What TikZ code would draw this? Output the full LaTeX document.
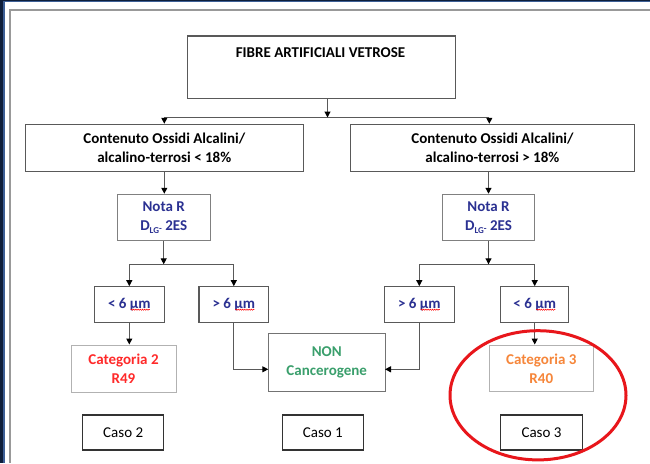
\documentclass[tikz,border=0pt]{standalone}
\usepackage{fontspec}
\setmainfont{Carlito}
\usetikzlibrary{arrows.meta,decorations.pathmorphing}
\definecolor{navy}{HTML}{2B3192}
\definecolor{frameNavy}{HTML}{0E1E3A}
\definecolor{frameBlue}{HTML}{3D5F96}
\definecolor{catred}{HTML}{FF2A2A}
\definecolor{catgreen}{HTML}{3A9F6C}
\definecolor{catorange}{HTML}{F6863A}
\definecolor{ringred}{HTML}{E8161B}
\begin{document}
\begin{tikzpicture}[x=1pt,y=-1pt,
  font=\fontsize{15}{19}\selectfont,
  bx/.style={draw=black!65, line width=1.1pt, inner sep=0pt, align=center, fill=white},
  navybx/.style={bx, draw=black!50, text=navy, font=\fontsize{15}{19}\selectfont\bfseries},
  sizebx/.style={bx, text=navy, font=\fontsize{15}{19}\selectfont\bfseries},
  catbx/.style={bx, draw=black!30, line width=1pt, font=\fontsize{15}{19}\selectfont\bfseries},
  casobx/.style={bx, draw=black!80},
  conn/.style={draw=black!65, line width=1.1pt},
  arr/.style={conn, -{Triangle[length=6pt,width=6pt,color=black]}},
  squig/.style={draw=red, line width=0.5pt, decorate, decoration={snake, amplitude=0.6pt, segment length=2.2pt}}
]
\useasboundingbox[fill=white] (0,0) rectangle (650,463);
% slide frame
\fill[frameNavy] (0,0) rectangle (3.4,463);
\fill[frameNavy] (0,0) rectangle (650,1.3);
\fill[frameBlue] (3.4,1.3) rectangle (4.7,463);
\fill[frameBlue] (3.4,1.3) rectangle (650,2.0);
\draw[black!40, line width=1.4pt] (9.8,463) -- (9.8,9.8) -- (650,9.8);

% top box
\node[bx, minimum width=268pt, minimum height=62.4pt] (top) at (321.5,67.2) {};
\node[font=\fontsize{15}{19}\selectfont\bfseries, inner sep=0pt] (toplbl) at (320.5,52.5) {FIBRE ARTIFICIALI VETROSE};

% level 1
\node[bx, font=\fontsize{15}{19}\selectfont\bfseries, minimum width=278pt, minimum height=47.4pt] (c1) at (164.3,148)
  {Contenuto Ossidi Alcalini/\\alcalino-terrosi < 18\%};
\node[bx, font=\fontsize{15}{19}\selectfont\bfseries, minimum width=283.3pt, minimum height=47.4pt] (c2) at (492.4,148)
  {Contenuto Ossidi Alcalini/\\alcalino-terrosi > 18\%};

% Nota R
\newcommand{\dlg}{D\raisebox{-2.5pt}{\fontsize{9}{9}\selectfont LG}\raisebox{-1pt}{\fontsize{9}{9}\selectfont -}~2ES}
\node[navybx, minimum width=92.7pt, minimum height=46.4pt] (n1) at (163.7,217.5) {Nota R\\\dlg};
\node[navybx, minimum width=92.4pt, minimum height=46.4pt] (n2) at (488.5,217.5) {Nota R\\\dlg};

% size boxes
\node[sizebx, minimum width=70pt, minimum height=36pt] (a1) at (129.3,304.7) {< 6 µm};
\node[sizebx, minimum width=69.7pt, minimum height=36pt] (a2) at (233.8,304.7) {> 6 µm};
\node[sizebx, minimum width=70pt, minimum height=36pt] (a3) at (419.3,304.7) {> 6 µm};
\node[sizebx, minimum width=68pt, minimum height=36pt] (a4) at (534.7,304.7) {< 6 µm};
\foreach \b in {a1,a2,a3,a4}{
  \draw[squig] ([xshift=1.5pt,yshift=-5pt]\b.center) -- ([xshift=20.5pt,yshift=-5pt]\b.center);
}

% outcome boxes
\node[catbx, text=catred, minimum width=105pt, minimum height=47pt] (cat2) at (123.5,368.5) {Categoria 2\\R49};
\node[bx, draw=black!55, text=catgreen, font=\fontsize{15}{19}\selectfont\bfseries, minimum width=116.7pt, minimum height=58.4pt] (non) at (326.7,362.5) {NON\\Cancerogene};
\node[catbx, text=catorange, minimum width=104pt, minimum height=46.7pt] (cat3) at (541.3,368.4) {Categoria 3\\R40};

% caso boxes
\node[casobx, minimum width=81pt, minimum height=35pt] (k2) at (123.2,432.5) {Caso 2};
\node[casobx, minimum width=81pt, minimum height=35pt] (k1) at (322.8,432.5) {Caso 1};
\node[casobx, minimum width=81.6pt, minimum height=35pt] (k3) at (541.5,432.5) {Caso 3};

% connectors
\coordinate (j0) at (327.5,117.5);
\coordinate (jl) at (164.3,117.5);
\coordinate (jr) at (489.3,117.5);
\draw[conn] (jl) -- (jr);
\draw[arr] (top.south -| j0) -- (j0);
\draw[arr] (jl) -- (jl |- c1.north);
\draw[arr] (jr) -- (jr |- c2.north);
\draw[arr] (c1.south) -- (c1.south |- n1.north);
\draw[arr] (n2.north |- c2.south) -- (n2.north);

\coordinate (m1) at (163.7,264.3);
\coordinate (m2) at (488.5,264.3);
\draw[conn] (m1 -| a1) -- (m1 -| a2);
\draw[conn] (m2 -| a3) -- (m2 -| a4);
\draw[arr] (n1.south) -- (m1);
\draw[arr] (n2.south) -- (m2);
\draw[arr] (m1 -| a1) -- (a1.north);
\draw[arr] (m1 -| a2) -- (a2.north);
\draw[arr] (m2 -| a3) -- (a3.north);
\draw[arr] (m2 -| a4) -- (a4.north);

\coordinate (nw) at (268.3,369.3);
\coordinate (ne) at (385,369.3);
\draw[arr] (a1.south) -- (a1.south |- cat2.north);
\draw[arr] (a2.south) |- (nw);
\draw[arr] (a3.south) |- (ne);
\draw[arr] (a4.south) -- (a4.south |- cat3.north);

% highlight ring
\draw[ringred, line width=3pt] (538,395.3) ellipse [x radius=88, y radius=64.6];
\end{tikzpicture}
\end{document}
